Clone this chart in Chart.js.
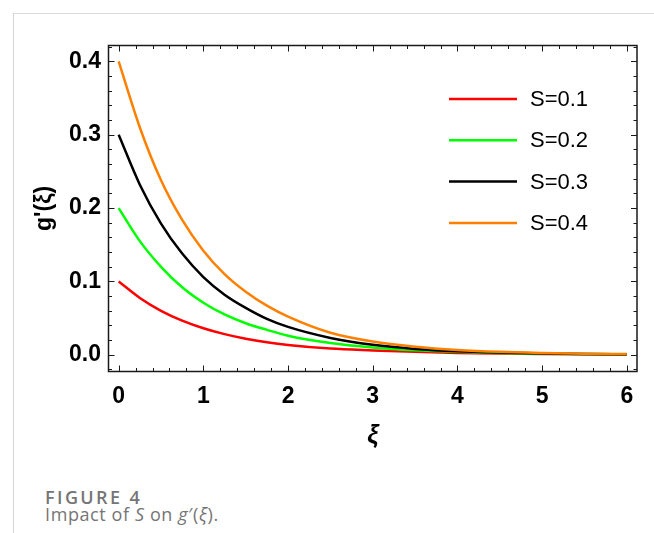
<!DOCTYPE html>
<html>
<head>
<meta charset="utf-8">
<script src="https://cdn.jsdelivr.net/npm/chart.js@4.4.0/dist/chart.umd.min.js"></script>
<style>
  html, body { margin: 0; padding: 0; background: #fff; }
  #wrap { position: relative; width: 654px; height: 533px; overflow: hidden; }
  #chartBox { position: absolute; left: 0; top: 0; width: 654px; height: 460px; }
  .rule-top { position: absolute; left: 13px; top: 13px; width: 641px; height: 1px; background: #dcdcdc; }
  .rule-left { position: absolute; left: 13px; top: 13px; width: 1px; height: 520px; background: #d4d4d4; }
  .cap { position: absolute; left: 45px; font-family: "Open Sans", sans-serif; font-size: 18px; line-height: 18px; white-space: nowrap; color: #757575; }
  .cap1 { top: 488px; font-weight: 600; letter-spacing: 2.4px; }
  .cap2 { top: 505px; font-weight: 400; letter-spacing: 0.6px; }
</style>
</head>
<body>
<div id="wrap">
  <div class="rule-top"></div>
  <div class="rule-left"></div>
  <div id="chartBox"><canvas id="gChart"></canvas></div>
  <div class="cap cap1">FIGURE 4</div>
  <div class="cap cap2">Impact of <i>S</i> on <i>g</i>′(<i>ξ</i>).</div>
</div>
<script>
// values
const xValues = [0, 0.25, 0.5, 0.75, 1, 1.25, 1.5, 1.75, 2, 2.5, 3, 3.5, 4, 4.5, 5, 5.5, 6];
const s01 = [0.100, 0.0775, 0.060, 0.0466, 0.0362, 0.0282, 0.0220, 0.0172, 0.0135, 0.0085, 0.0060, 0.0040, 0.0026, 0.0017, 0.0011, 0.0007, 0.0005];
const s02 = [0.200, 0.155, 0.120, 0.092, 0.071, 0.055, 0.043, 0.034, 0.026, 0.016, 0.0100, 0.0062, 0.0040, 0.0025, 0.0015, 0.0010, 0.0006];
const s03 = [0.300, 0.232, 0.179, 0.138, 0.106, 0.082, 0.064, 0.049, 0.038, 0.023, 0.0136, 0.0080, 0.0048, 0.0030, 0.0018, 0.0011, 0.0007];
const s04 = [0.400, 0.310, 0.238, 0.184, 0.142, 0.110, 0.086, 0.067, 0.052, 0.030, 0.018, 0.011, 0.0066, 0.0040, 0.0025, 0.0015, 0.0010];
const seriesLabels = ["S=0.1", "S=0.2", "S=0.3", "S=0.4"];
const xTicks = [0, 1, 2, 3, 4, 5, 6];
const yTicks = [0, 0.1, 0.2, 0.3, 0.4];

const colors = ["#ff0000", "#00ff00", "#000000", "#ff8000"];
const allSeries = [s01, s02, s03, s04];

const toPoints = (ys) => xValues.map((x, i) => ({ x: x, y: ys[i] }));

// frame with inward major/minor ticks on all four sides
const framePlugin = {
    id: "frame",
    afterDraw(chart) {
        const ctx = chart.ctx;
        const a = chart.chartArea;
        const xs = chart.scales.x;
        const ys = chart.scales.y;
        ctx.save();
        ctx.strokeStyle = "#1a1a1a";
        ctx.lineWidth = 1.5;
        ctx.strokeRect(a.left, a.top, a.right - a.left, a.bottom - a.top);
        ctx.lineWidth = 1;
        ctx.beginPath();
        for (let k = 0; k <= 30; k++) {
            const v = k * 0.2;
            const px = Math.round(xs.getPixelForValue(v)) + 0.5;
            const len = k % 5 === 0 ? 6 : 3.5;
            ctx.moveTo(px, a.bottom); ctx.lineTo(px, a.bottom - len);
            ctx.moveTo(px, a.top); ctx.lineTo(px, a.top + len);
        }
        for (let k = -1; k <= 21; k++) {
            const v = k * 0.02;
            if (v < ys.min || v > ys.max) continue;
            const py = Math.round(ys.getPixelForValue(v)) + 0.5;
            const len = k % 5 === 0 ? 6 : 3.5;
            ctx.moveTo(a.left, py); ctx.lineTo(a.left + len, py);
            ctx.moveTo(a.right, py); ctx.lineTo(a.right - len, py);
        }
        ctx.stroke();
        ctx.restore();
    }
};

// legend drawn inside the plot, top right
const legendPlugin = {
    id: "innerLegend",
    afterDraw(chart) {
        const ctx = chart.ctx;
        ctx.save();
        ctx.font = "22px 'Liberation Sans', Arial, sans-serif";
        ctx.textBaseline = "middle";
        ctx.fillStyle = "#000";
        chart.data.datasets.forEach((ds, i) => {
            const y = 99 + i * 41.3;
            ctx.strokeStyle = ds.borderColor;
            ctx.lineWidth = 2.5;
            ctx.beginPath();
            ctx.moveTo(449, y);
            ctx.lineTo(517, y);
            ctx.stroke();
            ctx.fillText(ds.label, 530, y + 1);
        });
        ctx.restore();
    }
};

const ctx = document.getElementById("gChart").getContext("2d");
new Chart(ctx, {
    type: "line",
    data: {
        datasets: allSeries.map((ys, i) => ({
            label: seriesLabels[i],
            data: toPoints(ys),
            borderColor: colors[i],
            borderWidth: 2.5,
            pointRadius: 0,
            fill: false,
            cubicInterpolationMode: "monotone",
            order: allSeries.length - i
        }))
    },
    options: {
        responsive: true,
        maintainAspectRatio: false,
        animation: false,
        layout: { padding: { top: 45.5, right: 17, left: 0, bottom: 0 } },
        plugins: {
            legend: { display: false },
            tooltip: { enabled: false }
        },
        scales: {
            x: {
                type: "linear",
                min: -0.12,
                max: 6.12,
                grid: { display: false, drawTicks: false },
                border: { display: false },
                afterBuildTicks: (scale) => { scale.ticks = xTicks.map(v => ({ value: v })); },
                afterFit: (scale) => { scale.height = 88.5; },
                ticks: {
                    padding: 11,
                    color: "#000",
                    maxRotation: 0,
                    font: { family: "'Liberation Sans', Arial, sans-serif", size: 23, weight: "bold" },
                    callback: (v) => String(v)
                },
                title: {
                    display: true,
                    text: "ξ",
                    color: "#000",
                    padding: { top: 0, bottom: 9 },
                    font: { family: "'Liberation Sans', Arial, sans-serif", size: 25, weight: "bold", style: "italic" }
                }
            },
            y: {
                type: "linear",
                min: -0.0228,
                max: 0.4218,
                grid: { display: false, drawTicks: false },
                border: { display: false },
                afterBuildTicks: (scale) => { scale.ticks = yTicks.map(v => ({ value: v })); },
                afterFit: (scale) => { scale.width = 108.5; },
                ticks: {
                    padding: 7.5,
                    color: "#000",
                    font: { family: "'Liberation Sans', Arial, sans-serif", size: 23, weight: "bold" },
                    callback: (v) => Number(v).toFixed(1)
                },
                title: {
                    display: true,
                    text: "g'(ξ)",
                    color: "#000",
                    padding: { top: 31, bottom: 0 },
                    font: { family: "'Liberation Sans', Arial, sans-serif", size: 23, weight: "bold" }
                }
            }
        }
    },
    plugins: [framePlugin, legendPlugin]
});
</script>
</body>
</html>
